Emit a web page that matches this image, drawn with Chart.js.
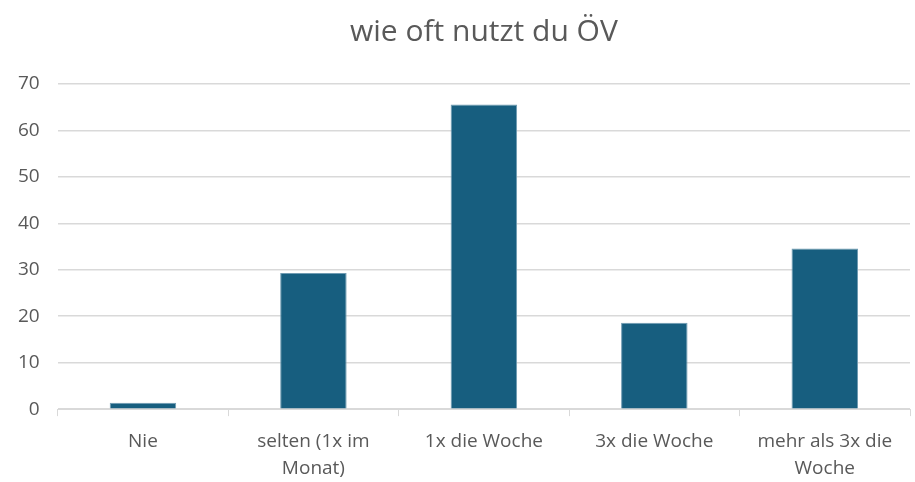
<!DOCTYPE html>
<html>
<head>
<meta charset="utf-8">
<script src="https://cdn.jsdelivr.net/npm/chart.js@4/dist/chart.umd.min.js"></script>
<style>
  html, body { margin: 0; padding: 0; background: #fff; }
  #wrap { width: 915px; height: 482px; }
</style>
</head>
<body>
<div id="wrap"><canvas id="grafico" width="915" height="482"></canvas></div>
<script>
const kategorien = [
  "Nie",
  ["selten (1x im", "Monat)"],
  "1x die Woche",
  "3x die Woche",
  ["mehr als 3x die", "Woche"]
];
const anzahl = [1.4, 29.3, 65.6, 18.6, 34.6];
const yTicks = [0, 10, 20, 30, 40, 50, 60, 70];

const schrift = "'Open Sans', 'Noto Sans', sans-serif";
const grau = "#595959";

new Chart(document.getElementById("grafico").getContext("2d"), {
  type: "bar",
  data: {
    labels: kategorien,
    datasets: [{
      label: "wie oft nutzt du ÖV",
      data: anzahl,
      backgroundColor: "#175e7f",
      borderColor: "#6f9bb2",
      borderWidth: 1,
      categoryPercentage: 1,
      barPercentage: 0.39
    }]
  },
  options: {
    responsive: false,
    animation: false,
    layout: { padding: { left: 0, right: 5, top: 10, bottom: 0 } },
    plugins: {
      legend: { display: false },
      tooltip: { enabled: false },
      title: {
        display: true,
        fullSize: false,
        text: "wie oft nutzt du ÖV",
        color: grau,
        font: { family: schrift, size: 30, weight: "normal" },
        padding: { top: 4, bottom: 34 }
      }
    },
    scales: {
      x: {
        grid: { drawOnChartArea: false, color: "#d9d9d9", tickLength: 7 },
        border: { color: "#d9d9d9" },
        afterFit: axis => { axis.height -= 12; },
        ticks: {
          color: grau,
          font: { family: schrift, size: 19, lineHeight: 1.47 },
          padding: 11,
          maxRotation: 0
        }
      },
      y: {
        min: 0,
        max: 70,
        afterBuildTicks: axis => { axis.ticks = yTicks.map(v => ({ value: v })); },
        grid: { color: "#d9d9d9", drawTicks: false, lineWidth: 1.5 },
        border: { display: false },
        ticks: {
          color: grau,
          font: { family: schrift, size: 19 },
          padding: 18
        }
      }
    }
  }
});
</script>
</body>
</html>
